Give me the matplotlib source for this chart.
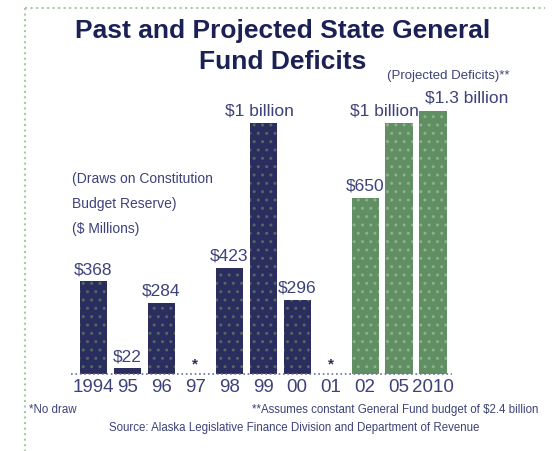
import matplotlib
matplotlib.use("Agg")
import matplotlib.pyplot as plt
from matplotlib.lines import Line2D

W, H = 552, 451
years = ["1994", "95", "96", "97", "98", "99", "00", "01", "02", "05", "2010"]
heights = [368, 22, 284, 0, 423, 1000, 296, 0, 700, 1000, 1045]
value_labels = ["$368", "$22", "$284", "*", "$423", "$1 billion", "$296", "*", "$650", "$1 billion", "$1.3 billion"]
projected = [False, False, False, False, False, False, False, False, True, True, True]

navy = "#2b2d5e"
green = "#5f8f63"
txt = "#3d4278"
FAM = ["Liberation Sans", "DejaVu Sans"]

fig = plt.figure(figsize=(W / 100, H / 100), dpi=100)
fig.patch.set_facecolor("white")

def px(x, y):
    return x / W, 1 - y / H

left = 76.5 / W
width = (450 - 76.5) / W
bottom = (H - 374) / H
height = 352 / H
ax = fig.add_axes([left, bottom, width, height])
ax.set_xlim(-0.5, 10.5)
ax.set_ylim(0, 1400)
ax.axis("off")

xs = list(range(len(years)))
for x, h, p in zip(xs, heights, projected):
    if h <= 0:
        continue
    c = green if p else navy
    hc = "#8fb08a" if p else "#4f6a63"
    ax.bar(x, h, width=0.8, color=c, edgecolor=hc, linewidth=0, hatch="..", zorder=2)

ax.plot([-0.65, 10.55], [0, 0], color="#6a6fa0", lw=1.2, ls=":", zorder=3, clip_on=False)

for x, h, lab in zip(xs, heights, value_labels):
    if lab == "*":
        ax.text(x, 10, "*", ha="center", va="bottom", fontsize=11, color=navy, fontweight="bold", family=FAM)
        continue
    dx, dy = 0, 16
    if lab == "$1 billion" and x == 9:
        dx = -0.42
    if lab == "$1 billion" and x == 5:
        dx = -0.1
    if lab == "$1.3 billion":
        dx = 1.0
        dy = 22
    ax.text(x + dx, h + dy, lab, ha="center", va="bottom", fontsize=12.5, color=txt, family=FAM)

for x, lab in zip(xs, years):
    ax.text(x, -20, lab, ha="center", va="top", fontsize=13.5, color=txt, family=FAM)

fig.text(*px(283, 31), "Past and Projected State General", ha="center", va="center",
         fontsize=19, fontweight="bold", color="#1c2155", family=FAM)
fig.text(*px(283, 62), "Fund Deficits", ha="center", va="center",
         fontsize=19, fontweight="bold", color="#1c2155", family=FAM)

fig.text(*px(448, 76), "(Projected Deficits)**", ha="center", va="center", fontsize=9.5, color=txt, family=FAM)

for yy, s in [(179, "(Draws on Constitution"), (204, "Budget Reserve)"), (229, "($ Millions)")]:
    fig.text(*px(72, yy), s, ha="left", va="center", fontsize=10, color=txt, family=FAM)

fig.text(*px(29, 410), "*No draw", ha="left", va="center", fontsize=8.3, color=txt, family=FAM)
fig.text(*px(538, 410), "**Assumes constant General Fund budget of $2.4 billion", ha="right", va="center",
         fontsize=8.3, color=txt, family=FAM)
fig.text(*px(294, 428), "Source: Alaska Legislative Finance Division and Department of Revenue",
         ha="center", va="center", fontsize=8.3, color=txt, family=FAM)

fig.add_artist(Line2D([25 / W, 545 / W], [1 - 8 / H, 1 - 8 / H], transform=fig.transFigure,
                      color="#a8c8a8", lw=1.5, ls=":"))
fig.add_artist(Line2D([25 / W, 25 / W], [1 - 8 / H, 0], transform=fig.transFigure,
                      color="#a8c8a8", lw=1.5, ls=":"))

fig.savefig("out.png", dpi=100, facecolor="white")
